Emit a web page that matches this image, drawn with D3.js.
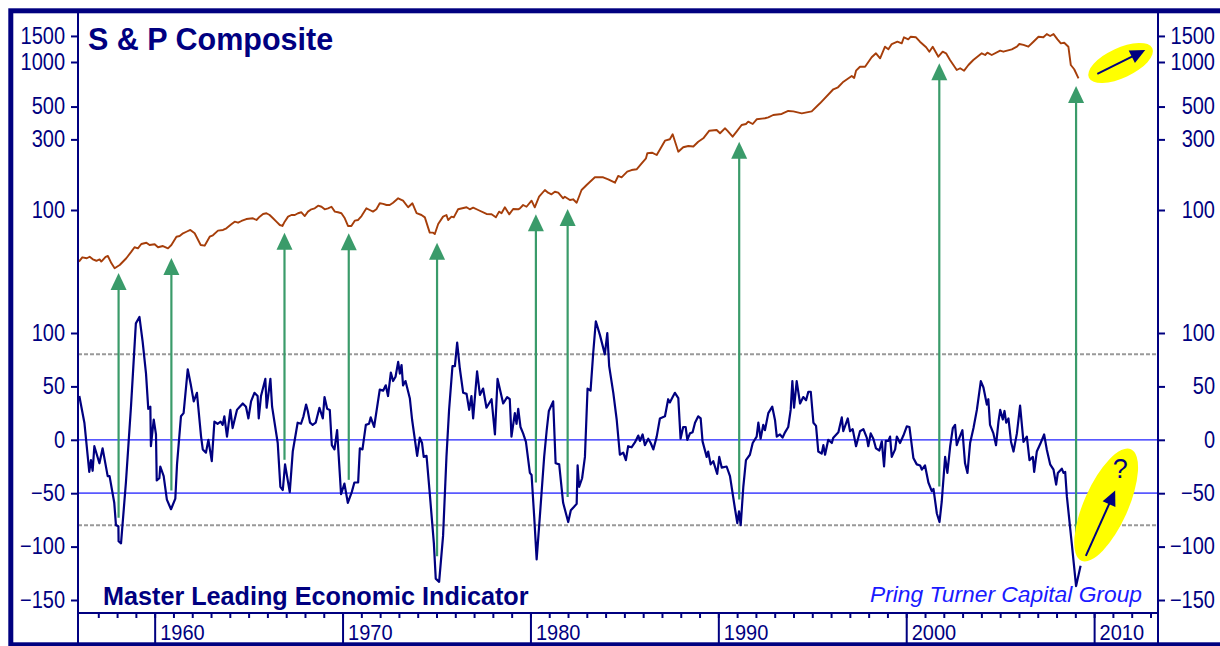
<!DOCTYPE html>
<html>
<head>
<meta charset="utf-8">
<script src="https://cdn.jsdelivr.net/npm/d3@7"></script>
<style>
  body { margin: 0; background: #fff; }
  svg { display: block; }
</style>
</head>
<body>
<div class="chart"></div>
<script>
// S&P Composite, monthly-ish readings [year, index level]
const spSeries = [
  [1955.97,44.8],[1956.15,47.9],[1956.39,47.2],[1956.54,48.3],[1956.71,46.4],[1956.90,45.4],[1957.07,46.4],[1957.16,44.8],
  [1957.39,48.3],[1957.51,48.9],[1957.70,43.6],[1957.87,40.4],[1958.14,42.5],[1958.49,47.2],[1958.76,52.3],[1958.93,56.0],
  [1959.11,55.1],[1959.29,58.9],[1959.56,60.1],[1959.73,58.0],[1960.00,58.7],[1960.18,56.0],[1960.44,57.1],[1960.71,55.1],
  [1960.89,58.0],[1961.16,66.0],[1961.33,66.7],[1961.51,69.6],[1961.69,71.3],[1961.90,73.3],[1962.13,69.6],[1962.45,58.0],
  [1962.66,57.4],[1962.93,66.0],[1963.10,67.5],[1963.37,72.5],[1963.64,73.3],[1963.82,75.2],[1964.08,80.0],[1964.26,83.4],
  [1964.44,82.1],[1964.62,84.3],[1964.88,86.9],[1965.23,87.9],[1965.42,85.6],[1965.59,90.2],[1965.77,94.0],[1965.95,95.1],
  [1966.12,92.5],[1966.30,87.9],[1966.48,83.4],[1966.66,79.2],[1966.80,78.0],[1966.92,83.4],[1967.10,90.2],[1967.28,92.5],
  [1967.46,92.5],[1967.63,95.1],[1967.81,96.5],[1967.99,91.0],[1968.16,97.5],[1968.34,101.1],[1968.52,102.6],[1968.70,106.9],
  [1968.88,105.2],[1969.05,101.1],[1969.23,102.6],[1969.41,105.2],[1969.59,97.5],[1969.76,96.5],[1969.94,95.1],[1970.12,87.9],
  [1970.29,78.0],[1970.47,78.0],[1970.65,84.7],[1970.83,85.6],[1971.01,91.0],[1971.27,102.6],[1971.45,100],[1971.62,97.5],
  [1971.80,101.1],[1971.98,111.0],[1972.16,109.9],[1972.34,108.1],[1972.51,108.1],[1972.69,112.0],[1972.96,120.0],[1973.22,115.6],
  [1973.49,104.3],[1973.72,111.0],[1973.94,95.1],[1974.20,92.5],[1974.38,89.2],[1974.64,70.3],[1974.82,70.3],[1974.91,68.8],
  [1975.09,80.4],[1975.35,90.2],[1975.53,92.5],[1975.62,85.6],[1975.80,90.2],[1975.92,89.2],[1976.15,101.1],[1976.60,104.3],
  [1976.77,101.1],[1976.95,103.7],[1977.22,100],[1977.66,94.0],[1977.93,93.5],[1978.16,89.2],[1978.33,97.5],[1978.46,95.1],
  [1978.64,104.3],[1978.87,93.5],[1979.08,101.6],[1979.35,101.1],[1979.44,102.6],[1979.61,108.1],[1979.79,105.2],[1980.06,115.6],
  [1980.23,104.3],[1980.46,123.0],[1980.77,136.5],[1980.94,130.9],[1981.12,127.7],[1981.30,132.9],[1981.48,130.9],[1981.74,120.0],
  [1981.83,123.0],[1982.10,116.9],[1982.27,118.1],[1982.46,112.0],[1982.72,136.5],[1982.99,147.6],[1983.43,166.3],[1983.87,166.3],
  [1984.14,161.2],[1984.50,152.9],[1984.67,169.8],[1984.85,166.3],[1985.15,181.5],[1985.38,186.2],[1985.65,188.4],[1985.92,206.8],
  [1986.15,223.5],[1986.22,241.6],[1986.47,243.8],[1986.72,235.3],[1986.93,261.2],[1987.16,293.9],[1987.42,300.5],[1987.57,324.6],
  [1987.87,247.7],[1988.13,265.4],[1988.40,270.7],[1988.67,268.6],[1988.93,289.3],[1989.20,305.1],[1989.52,343.5],[1989.91,347.1],
  [1990.09,330.0],[1990.35,356.5],[1990.48,343.5],[1990.76,312.8],[1990.97,338.1],[1991.24,375.4],[1991.47,381.1],[1991.59,395.0],
  [1991.83,381.1],[1992.04,410.0],[1992.48,416.7],[1992.66,422.8],[1992.92,438.5],[1993.37,445.7],[1993.72,466.7],[1993.99,463.6],
  [1994.44,450.0],[1994.97,463.6],[1995.41,526.0],[1996.12,654.2],[1996.37,675.0],[1996.66,736.2],[1997.10,804.3],[1997.23,779.9],
  [1997.33,873.5],[1997.54,929.3],[1997.81,929.3],[1998.16,1076],[1998.39,1145],[1998.61,1059],[1998.87,1269],[1999.05,1218],
  [1999.23,1323],[1999.53,1371],[1999.76,1337],[1999.88,1469],[2000.11,1423],[2000.24,1482],[2000.52,1469],[2000.73,1371],
  [2001.06,1257],[2001.23,1174],[2001.41,1269],[2001.71,1086],[2001.94,1174],[2002.12,1145],[2002.33,1032],[2002.69,883],
  [2002.87,907],[2003.08,873.5],[2003.31,954],[2003.57,1032],[2004.02,1145],[2004.20,1115],[2004.32,1156],[2004.55,1115],
  [2005.00,1192],[2005.17,1174],[2005.62,1218],[2005.89,1269],[2006.02,1323],[2006.24,1304],[2006.50,1269],[2006.77,1371],
  [2007.04,1482],[2007.30,1469],[2007.48,1544],[2007.66,1499],[2007.84,1544],[2008.05,1423],[2008.23,1337],[2008.41,1349],
  [2008.63,1269],[2008.76,954],[2008.94,893],[2009.17,776]
];

// Master Leading Economic Indicator [year, value]
const mleiSeries = [
  [1955.99,41],[1956.26,16],[1956.52,-30],[1956.61,-19],[1956.70,-29],[1956.79,-6],[1957.06,-22],[1957.23,-8],[1957.50,-34],
  [1957.60,-34],[1957.85,-59],[1957.94,-80],[1958.07,-81],[1958.08,-95],[1958.21,-97],[1958.47,-40],[1958.74,31],[1959.00,109],
  [1959.19,115],[1959.36,92],[1959.54,62],[1959.66,29],[1959.77,31],[1959.80,-6],[1959.95,19],[1960.07,5],[1960.11,-38],
  [1960.25,-36],[1960.30,-25],[1960.48,-34],[1960.65,-56],[1960.87,-65],[1961.10,-55],[1961.19,-23],[1961.40,22],[1961.54,25],
  [1961.76,66],[1961.93,51],[1962.08,36],[1962.25,44],[1962.47,3],[1962.56,-9],[1962.73,-12],[1962.86,0],[1963.04,-20],
  [1963.18,17],[1963.35,15],[1963.51,17],[1963.62,14],[1963.71,22],[1963.85,3],[1964.03,28],[1964.15,11],[1964.38,28],
  [1964.53,31],[1964.69,34],[1964.86,31],[1964.99,20],[1965.13,36],[1965.31,44],[1965.48,41],[1965.54,20],[1965.66,41],
  [1965.89,57],[1965.96,30],[1966.16,57],[1966.25,31],[1966.55,-3],[1966.69,-44],[1966.82,-47],[1966.94,-23],[1967.19,-49],
  [1967.35,-11],[1967.61,16],[1967.79,15],[1967.92,22],[1968.06,33],[1968.15,27],[1968.27,16],[1968.41,14],[1968.57,16],
  [1968.77,30],[1968.95,20],[1969.04,40],[1969.18,29],[1969.32,28],[1969.43,-5],[1969.57,-9],[1969.71,9],[1969.92,-51],
  [1970.10,-41],[1970.28,-59],[1970.49,-49],[1970.63,-40],[1970.83,-40],[1970.92,-8],[1971.06,-9],[1971.24,14],[1971.41,15],
  [1971.50,21],[1971.68,12],[1971.98,47],[1972.16,46],[1972.30,51],[1972.42,41],[1972.57,63],[1972.69,55],[1972.82,59],
  [1972.96,73],[1973.05,62],[1973.14,70],[1973.22,51],[1973.35,55],[1973.58,39],[1973.70,19],[1973.97,-15],[1974.11,2],
  [1974.23,-3],[1974.32,-16],[1974.47,-15],[1974.64,-50],[1974.86,-97],[1974.96,-130],[1975.14,-133],[1975.35,-90],[1975.53,-16],
  [1975.67,28],[1975.85,69],[1975.98,69],[1976.10,91],[1976.24,67],[1976.42,44],[1976.60,43],[1976.74,28],[1976.86,41],
  [1976.95,20],[1977.16,64],[1977.31,42],[1977.48,48],[1977.66,30],[1977.93,38],[1978.11,5],[1978.25,57],[1978.55,34],
  [1978.76,40],[1978.90,38],[1978.99,3],[1979.17,25],[1979.26,15],[1979.35,29],[1979.47,12],[1979.61,6],[1979.76,-2],
  [1979.97,-31],[1980.06,-33],[1980.20,-72],[1980.33,-112],[1980.50,-72],[1980.73,-16],[1980.86,8],[1980.98,27],[1981.21,36],
  [1981.34,-22],[1981.53,-23],[1981.74,-59],[1982.01,-77],[1982.15,-66],[1982.31,-63],[1982.46,-60],[1982.51,-24],[1982.59,-44],
  [1982.75,-36],[1982.90,-16],[1983.04,48],[1983.20,46],[1983.34,81],[1983.48,111],[1983.70,98],[1983.96,80],[1984.09,100],
  [1984.19,69],[1984.41,44],[1984.59,19],[1984.76,-14],[1984.94,-12],[1985.08,-19],[1985.20,-6],[1985.38,-7],[1985.56,-2.5],
  [1985.74,4],[1985.83,-1],[1985.97,5],[1986.09,-5],[1986.27,1],[1986.40,-3],[1986.54,-9],[1986.72,3],[1986.89,20],
  [1987.16,22],[1987.33,38],[1987.42,35],[1987.57,40],[1987.69,44],[1987.87,39],[1987.99,1],[1988.13,12],[1988.26,12],
  [1988.35,0],[1988.49,6],[1988.63,7],[1988.76,16],[1988.93,22],[1989.06,20],[1989.16,-1.5],[1989.38,-16],[1989.46,-11],
  [1989.59,-23],[1989.73,-20],[1989.94,-32],[1990.05,-16],[1990.18,-26],[1990.44,-25],[1990.62,-34],[1990.89,-65],[1991.01,-78],
  [1991.10,-67],[1991.19,-80],[1991.33,-44],[1991.47,-19],[1991.68,-14],[1991.83,-3],[1992.04,3],[1992.13,16],[1992.25,1],
  [1992.39,14],[1992.48,9],[1992.66,25],[1992.87,31],[1993.02,18],[1993.11,3],[1993.28,5],[1993.42,2],[1993.55,7],
  [1993.72,12],[1993.85,28],[1993.94,55],[1994.03,30],[1994.17,55],[1994.35,34],[1994.52,40],[1994.67,37],[1994.79,45],
  [1994.92,45],[1995.06,16],[1995.20,13],[1995.32,-11],[1995.50,-13],[1995.59,-5],[1995.68,-14],[1995.85,0],[1996.04,-3],
  [1996.12,2],[1996.39,7],[1996.57,21],[1996.65,8],[1996.89,20],[1997.01,8],[1997.15,10],[1997.33,-6],[1997.54,8],
  [1997.72,10],[1997.90,2],[1997.98,-6],[1998.11,6],[1998.25,1],[1998.39,-8],[1998.57,-10],[1998.70,-1.5],[1998.82,-25],
  [1998.91,-1],[1999.05,-1],[1999.14,3],[1999.23,-16],[1999.41,-9],[1999.50,3],[1999.67,-3],[1999.85,4],[2000.03,12.5],
  [2000.17,12],[2000.38,-17],[2000.56,-23],[2000.74,-24],[2000.83,-28],[2001.00,-24],[2001.18,-40],[2001.36,-48],[2001.45,-46],
  [2001.63,-69],[2001.77,-77],[2001.89,-58],[2002.07,-16],[2002.19,-31],[2002.34,-6],[2002.48,11],[2002.60,14],[2002.69,-5],
  [2002.81,1],[2002.99,9],[2003.13,-22],[2003.26,-31],[2003.40,-3],[2003.58,11],[2003.76,28],[2003.97,55],[2004.11,49],
  [2004.29,33],[2004.37,38],[2004.46,14],[2004.64,6],[2004.78,-5],[2004.91,17],[2005.00,28],[2005.14,19],[2005.23,27],
  [2005.32,16],[2005.44,20],[2005.58,-2],[2005.71,-11],[2005.89,6],[2006.06,32],[2006.24,-2],[2006.42,3],[2006.56,-19],
  [2006.74,-16],[2006.81,-30],[2006.95,-11],[2007.13,-4],[2007.34,5],[2007.48,-9],[2007.66,-23],[2007.84,-28],[2007.98,-42],
  [2008.07,-31],[2008.28,-27],[2008.37,-31],[2008.46,-30],[2008.55,-53],[2008.81,-97],[2009.04,-137],[2009.28,-118]
];

// green arrows: year, S&P level at the tip, MLEI level at the tail
const arrowYears = [1958.08, 1960.89, 1966.91, 1970.33, 1975.03, 1980.29, 1981.98, 1991.11, 2001.76, 2009.04];
const arrowTips = [37.5, 47.4, 70.3, 69.6, 60.1, 93.5, 101.6, 289.3, 980, 688];
const arrowTails = [-73, -47.5, -18.7, -37.5, -109, -40, -53.6, -56, -43.7, -103.7];

const topTicks = [100, 300, 500, 1000, 1500];
const bottomTicks = [-150, -100, -50, 0, 50, 100];
const decadeTicks = [1960, 1970, 1980, 1990, 2000, 2010];
const yearTicks = d3.range(1957, 2014);
const refLines = [0, -50];
const bandLines = [80, -80];

const width = 1220, height = 646;
const left = 78, right = 1158, axisY = 613;
const navy = "#000080";
const font = "'Liberation Sans', Arial, sans-serif";

const svg = d3.select(".chart").append("svg")
    .attr("width", width)
    .attr("height", height);

const x = d3.scaleLinear().domain([1955.92, 2013.4]).range([left, right]);
const yTop = d3.scaleLog().domain([100, 1000]).range([210, 62]);
const yBot = d3.scaleLinear().domain([-150, 100]).range([600, 333]);

// reference lines in lower panel
svg.selectAll("line.band")
    .data(bandLines).enter()
    .append("line")
    .attr("x1", left).attr("x2", right)
    .attr("y1", d => yBot(d)).attr("y2", d => yBot(d))
    .attr("stroke", "#999")
    .attr("stroke-width", 2)
    .attr("stroke-dasharray", "4,2");

svg.selectAll("line.ref")
    .data(refLines).enter()
    .append("line")
    .attr("x1", left).attr("x2", right)
    .attr("y1", d => yBot(d)).attr("y2", d => yBot(d))
    .attr("stroke", (d, i) => i ? "#5a5aff" : "#2020ff")
    .attr("stroke-width", (d, i) => i ? 1.8 : 1.3);

const headPoints = (x1, y1, x2, y2, len, half) => {
    const a = Math.atan2(y2 - y1, x2 - x1);
    const bx = x2 - len * Math.cos(a), by = y2 - len * Math.sin(a);
    const px = -Math.sin(a) * half, py = Math.cos(a) * half;
    return `${x2},${y2} ${bx + px},${by + py} ${bx - px},${by - py}`;
};

// green arrows linking MLEI lows to S&P lows
const green = "#3a9b6a";
const arrows = svg.selectAll("g.arrow")
    .data(arrowYears).enter()
    .append("g");
arrows.append("line")
    .attr("x1", d => x(d)).attr("x2", d => x(d))
    .attr("y1", (d, i) => yBot(arrowTails[i]))
    .attr("y2", (d, i) => yTop(arrowTips[i]) + 14)
    .attr("stroke", green)
    .attr("stroke-width", 2.2);
arrows.append("polygon")
    .attr("points", (d, i) => headPoints(x(d), yBot(arrowTails[i]), x(d), yTop(arrowTips[i]), 17, 8))
    .attr("fill", green);

const spLine = d3.line().x(d => x(d[0])).y(d => yTop(d[1]));
const mleiLine = d3.line().x(d => x(d[0])).y(d => yBot(d[1]));

svg.append("path")
    .datum(spSeries)
    .attr("d", spLine)
    .attr("fill", "none")
    .attr("stroke", "#a63e0a")
    .attr("stroke-width", 1.9)
    .attr("stroke-linejoin", "round");

svg.append("path")
    .datum(mleiSeries)
    .attr("d", mleiLine)
    .attr("fill", "none")
    .attr("stroke", navy)
    .attr("stroke-width", 2.2)
    .attr("stroke-linejoin", "round");

// yellow call-outs
const callTop = { cx: 2011.41, cy: 985, from: [2010.17, 830], to: [2012.72, 1205] };
const callBot = { cx: 2010.64, cy: -61, from: [2009.56, -108.6], to: [2011.12, -47.5], q: [2011.39, -36] };

svg.append("ellipse")
    .attr("transform", `translate(${x(callTop.cx)},${yTop(callTop.cy)}) rotate(-25)`)
    .attr("rx", 35).attr("ry", 15)
    .attr("fill", "#ffff00");
svg.append("ellipse")
    .attr("transform", `translate(${x(callBot.cx)},${yBot(callBot.cy)}) rotate(-66)`)
    .attr("rx", 61).attr("ry", 22)
    .attr("fill", "#ffff00");

const drawArrow = (x1, y1, x2, y2) => {
    const a = Math.atan2(y2 - y1, x2 - x1);
    svg.append("line")
        .attr("x1", x1).attr("y1", y1)
        .attr("x2", x2 - 12 * Math.cos(a)).attr("y2", y2 - 12 * Math.sin(a))
        .attr("stroke", navy).attr("stroke-width", 2);
    svg.append("polygon")
        .attr("points", headPoints(x1, y1, x2, y2, 15, 7))
        .attr("fill", navy);
};
drawArrow(x(callTop.from[0]), yTop(callTop.from[1]), x(callTop.to[0]), yTop(callTop.to[1]));
drawArrow(x(callBot.from[0]), yBot(callBot.from[1]), x(callBot.to[0]), yBot(callBot.to[1]));

svg.append("text")
    .attr("x", x(callBot.q[0])).attr("y", yBot(callBot.q[1]))
    .attr("text-anchor", "middle")
    .attr("font-family", font).attr("font-size", 27)
    .attr("fill", navy)
    .text("?");

// axes; tick labels in the original are a little taller than wide
const styleAxis = g => {
    g.select(".domain").remove();
    g.attr("font-family", font).attr("font-size", 20);
    g.selectAll(".tick line").attr("stroke", navy).attr("stroke-width", 2);
    g.selectAll(".tick text").attr("fill", navy);
};
const stretch = (g, s) => g.selectAll(".tick text").attr("transform", `scale(1,${s})`);

svg.append("g")
    .attr("transform", `translate(${left},0)`)
    .call(d3.axisLeft(yTop).tickValues(topTicks).tickFormat(d3.format("d")).tickSize(7).tickPadding(6))
    .call(styleAxis)
    .call(stretch, 1.15);
svg.append("g")
    .attr("transform", `translate(${left},0)`)
    .call(d3.axisLeft(yBot).tickValues(bottomTicks).tickFormat(d3.format("d")).tickSize(7).tickPadding(6))
    .call(styleAxis)
    .call(stretch, 1.15);

[yTop, yBot].forEach((scale, i) => {
    svg.append("g")
        .attr("transform", `translate(${right},0)`)
        .call(d3.axisRight(scale).tickValues(i ? bottomTicks : topTicks).tickFormat(d3.format("d")).tickSize(7))
        .call(styleAxis)
        .call(g => g.selectAll(".tick text").attr("x", 57).attr("text-anchor", "end"))
        .call(stretch, 1.15);
});

svg.append("g")
    .attr("transform", `translate(0,${axisY})`)
    .call(d3.axisBottom(x).tickValues(yearTicks).tickFormat("").tickSize(5))
    .call(styleAxis);

svg.append("g")
    .attr("transform", `translate(0,${axisY})`)
    .call(d3.axisBottom(x).tickValues(decadeTicks).tickFormat(d3.format("d")).tickSize(32))
    .call(styleAxis)
    .call(g => g.selectAll(".tick text")
        .attr("x", 5).attr("y", 11).attr("dy", "0.71em")
        .attr("text-anchor", "start"))
    .call(stretch, 1.06);

// axis lines
svg.append("line")
    .attr("x1", left).attr("x2", right).attr("y1", axisY).attr("y2", axisY)
    .attr("stroke", navy).attr("stroke-width", 2);
[left, right].forEach(px => {
    svg.append("line")
        .attr("x1", px).attr("x2", px).attr("y1", 10).attr("y2", 645)
        .attr("stroke", navy).attr("stroke-width", 2);
});

// outer frame
svg.append("rect")
    .attr("x", 10.8).attr("y", 10.8)
    .attr("width", 1260).attr("height", 634)
    .attr("fill", "none")
    .attr("stroke", navy)
    .attr("stroke-width", 5);

// titles
svg.append("text")
    .attr("x", 88).attr("y", 50)
    .attr("font-family", font).attr("font-size", 30.5).attr("font-weight", "bold")
    .attr("fill", navy)
    .text("S & P Composite");

svg.append("text")
    .attr("x", 103).attr("y", 605)
    .attr("font-family", font).attr("font-size", 25.2).attr("font-weight", "bold")
    .attr("fill", navy)
    .text("Master Leading Economic Indicator");

svg.append("text")
    .attr("x", 1142).attr("y", 602)
    .attr("text-anchor", "end")
    .attr("font-family", font).attr("font-size", 22.8).attr("font-style", "italic")
    .attr("fill", "#1a1aff")
    .text("Pring Turner Capital Group");
</script>
</body>
</html>
